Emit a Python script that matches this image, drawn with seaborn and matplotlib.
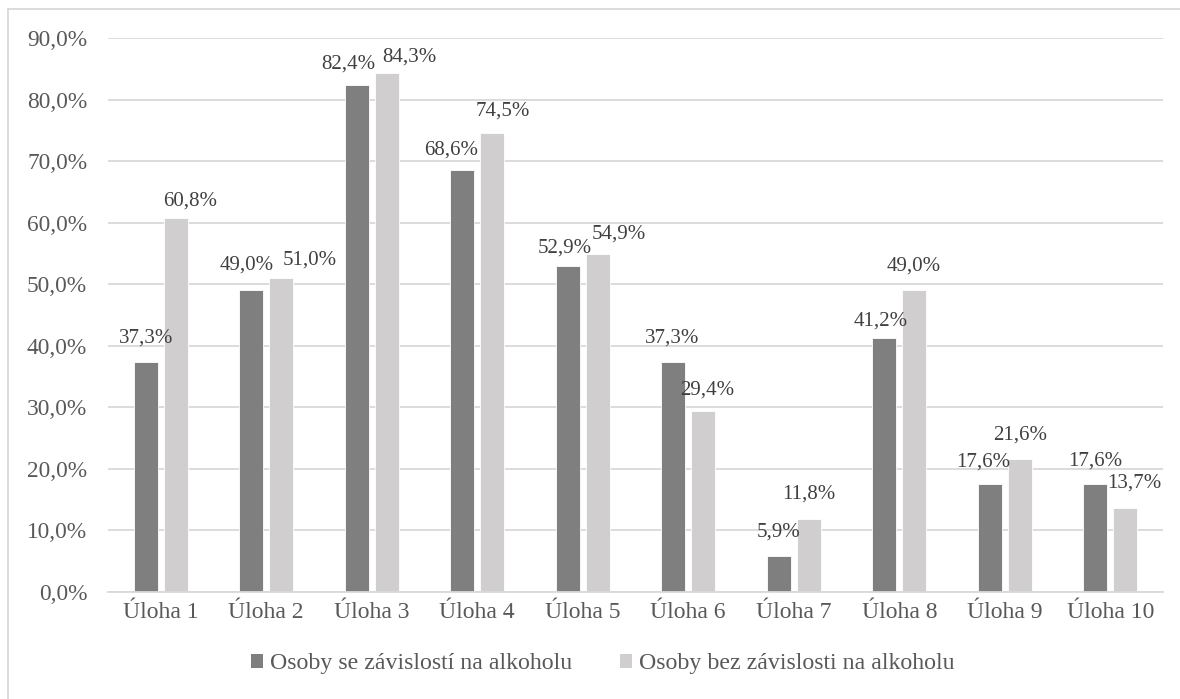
import pandas as pd
import matplotlib.pyplot as plt
import seaborn as sns
from matplotlib.patches import Patch
from matplotlib.lines import Line2D
from matplotlib.ticker import FuncFormatter

# Data
tasks = ["Úloha 1", "Úloha 2", "Úloha 3", "Úloha 4", "Úloha 5",
         "Úloha 6", "Úloha 7", "Úloha 8", "Úloha 9", "Úloha 10"]
groups = ["Osoby se závislostí na alkoholu", "Osoby bez závislosti na alkoholu"]
dependent = [37.3, 49.0, 82.4, 68.6, 52.9, 37.3, 5.9, 41.2, 17.6, 17.6]
non_dependent = [60.8, 51.0, 84.3, 74.5, 54.9, 29.4, 11.8, 49.0, 21.6, 13.7]

colors = ["#7f7f7f", "#d0cece"]

# label nudges (pixels) to mimic Excel's label placement
label_dx = [[0, -5, -8, -11, -3, -1, 0, -4, -7, 0],
            [14, 28, 23, 11, 21, 4, 0, -1, 0, 9]]
label_dy = [[24, 25, 21, 20, 18, 24, 24, 17, 22, 23],
            [17, 18, 16, 22, 20, 21, 25, 24, 24, 25]]

df = pd.DataFrame({
    "task": tasks * 2,
    "group": [groups[0]] * len(tasks) + [groups[1]] * len(tasks),
    "value": dependent + non_dependent,
})

sns.set_style("white")
plt.rcParams["font.family"] = ["Liberation Serif", "DejaVu Serif"]

fig = plt.figure(figsize=(11.8, 6.99), dpi=100)
ax = fig.add_axes([108 / 1180, 1 - 592 / 699, (1163 - 108) / 1180, (592 - 38) / 699])

sns.barplot(data=df, x="task", y="value", hue="group", order=tasks,
            hue_order=groups, palette=colors, width=0.569, gap=0.2,
            edgecolor="white", linewidth=0.6, legend=False, ax=ax)

# data labels
for i, cont in enumerate(ax.containers):
    for j, bar in enumerate(cont):
        h = bar.get_height()
        ax.annotate(f"{h:.1f}%".replace(".", ","),
                    (bar.get_x() + bar.get_width() / 2, h),
                    xytext=(label_dx[i][j], label_dy[i][j]),
                    textcoords="offset pixels", ha="center", va="center",
                    fontsize=15, color="#404040")

ax.set_ylim(0, 90)
ax.set_yticks(range(0, 91, 10))
ax.yaxis.set_major_formatter(FuncFormatter(lambda v, p: f"{v:.1f}%".replace(".", ",")))
ax.set_xlim(-0.5, len(tasks) - 0.5)
ax.grid(axis="y", color="#d9d9d9", linewidth=1.3)
ax.set_axisbelow(True)
for s in ["top", "right", "left"]:
    ax.spines[s].set_visible(False)
ax.spines["bottom"].set_color("#d9d9d9")
ax.spines["bottom"].set_linewidth(1.3)
ax.tick_params(axis="y", length=0, pad=15, labelsize=16.8, labelcolor="#595959")
ax.tick_params(axis="x", length=0, pad=7, labelsize=17, labelcolor="#595959")
ax.set_xlabel("")
ax.set_ylabel("")

# legend below the plot
handles = [Patch(facecolor=c, edgecolor="none") for c in colors]
fig.legend(handles, groups, loc="center", bbox_to_anchor=(603 / 1180, 1 - 664 / 699),
           ncol=2, frameon=False, fontsize=17.2, labelcolor="#595959",
           handlelength=0.5, handleheight=0.5, handletextpad=0.3,
           columnspacing=2.0)

# chart frame (only left and top edges fall inside the picture)
fig.add_artist(Line2D([8 / 1180, 8 / 1180], [0, 1 - 8.5 / 699],
                      transform=fig.transFigure, color="#d9d9d9", linewidth=1.3))
fig.add_artist(Line2D([8 / 1180, 1], [1 - 8.5 / 699, 1 - 8.5 / 699],
                      transform=fig.transFigure, color="#d9d9d9", linewidth=1.3))

fig.savefig("out.png", dpi=100)
